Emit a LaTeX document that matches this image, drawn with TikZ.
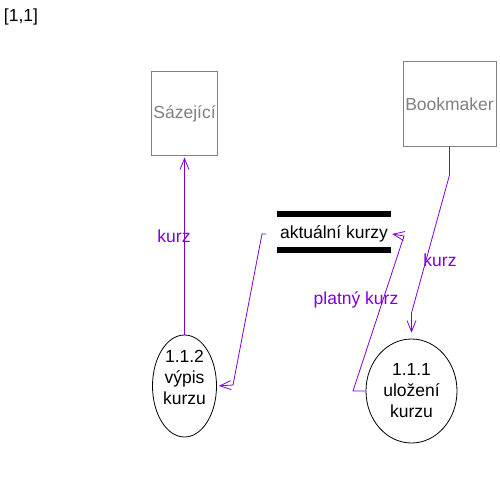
\documentclass[tikz,border=0pt]{standalone}
\usepackage{fontspec}
\setmainfont{Liberation Sans}
\usetikzlibrary{arrows.meta,shapes.geometric}
\definecolor{flowc}{RGB}{128,0,220}
\definecolor{extgray}{RGB}{128,128,128}
\tikzset{
  ext/.style={draw=extgray, line width=1pt, text=extgray, inner sep=0pt},
  proc/.style={draw=black, ellipse, line width=0.8pt, inner sep=0pt, align=center},
  flow/.style={draw=flowc, line width=0.8pt},
  flowarr/.style={flow, -{Straight Barb[length=11pt,width=9pt,line width=0.8pt]}},
  lbl/.style={text=flowc, inner sep=0pt},
  bar/.style={fill=black},
}
\begin{document}
\begin{tikzpicture}[x=1pt,y=-1pt,font=\fontsize{17.5}{21}\selectfont]
\useasboundingbox (0,0) rectangle (500,500);
\node[inner sep=0pt] (title) at (21,17) {[1,1]};
\node[ext, minimum width=66pt, minimum height=83pt] (S) at (184.5,113.5) {Sázející};
\node[ext, minimum width=93pt, minimum height=84pt] (B) at (449.5,104) {Bookmaker};
\node[inner xsep=4pt, inner ysep=0pt] (store) at (334,234) {aktuální kurzy};
\fill[bar] (277,211) rectangle (391,217);
\fill[bar] (277,247) rectangle (391,253);
\node[proc, minimum width=64pt, minimum height=102pt] (E2) at (184.5,386) {};
\node[inner sep=0pt, align=center] (E2t) at (184.5,377) {1.1.2\\výpis\\kurzu};
\node[proc, minimum width=91pt, minimum height=104pt] (E1) at (411.5,391) {1.1.1\\uložení\\kurzu};
\coordinate (s1) at (266,234);
\coordinate (c1) at (262,234);
\coordinate (c2) at (233,385);
\coordinate (c3) at (353,391);
\coordinate (c4) at (404,236);
\coordinate (c5) at (449.5,175);
\coordinate (c6) at (411.5,313);
\draw[flowarr, shorten >=2pt] (E2.north) -- (S.south);
\draw[flowarr, shorten >=2pt] (s1) -- (c1) -- (c2) -- (E2.east);
\draw[flowarr] (E1.west) -- (c3) -- (c4) -- (store.east);
\draw[flowarr, shorten >=6pt] (B.south) -- (c5) -- (c6) -- (E1.north);
\node[lbl] (l1) at (174,236) {kurz};
\node[lbl] (l2) at (356,300) {platný kurz};
\node[lbl] (l3) at (440,260) {kurz};
\end{tikzpicture}
\end{document}
